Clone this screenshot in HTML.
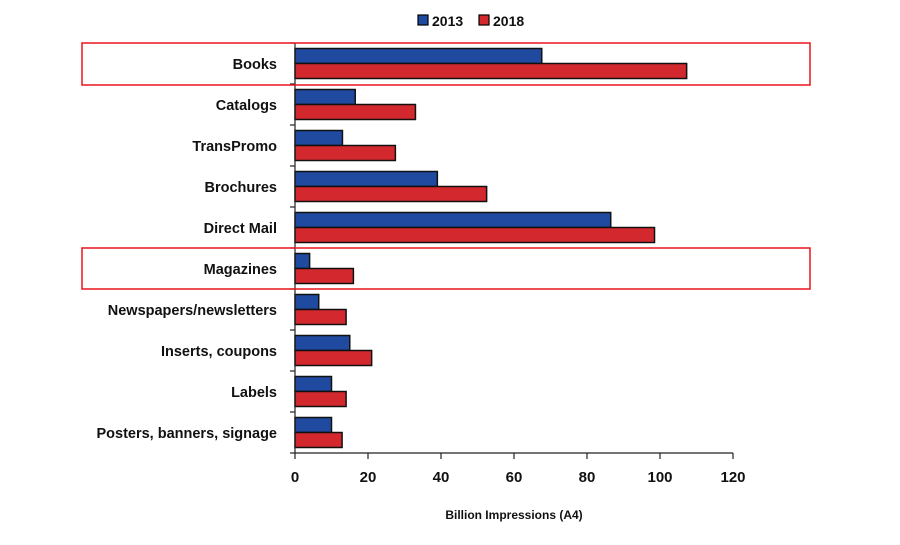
<!DOCTYPE html>
<html><head><meta charset="utf-8"><style>
body{margin:0;background:#fff}
text{font-family:"Liberation Sans",sans-serif;font-weight:bold;fill:#111}
</style></head><body>
<svg width="900" height="540" xmlns="http://www.w3.org/2000/svg">
<g font-size="14">
<rect x="418" y="15" width="10" height="10" fill="#1f4aa0" stroke="#000" stroke-width="1.2"/>
<text x="432" y="26">2013</text>
<rect x="479" y="15" width="10" height="10" fill="#d2282e" stroke="#000" stroke-width="1.2"/>
<text x="493" y="26">2018</text>
</g>
<g id="bars" stroke="#111" stroke-width="1.5"></g>
<line x1="295" y1="43" x2="295" y2="453" stroke="#222" stroke-width="1.2"/>
<line x1="295" y1="453" x2="733" y2="453" stroke="#222" stroke-width="1.2"/>
<g id="ticks" stroke="#222" stroke-width="1.2"></g>
<g id="labels" font-size="14.5" text-anchor="end"></g>
<g id="xl" font-size="15" text-anchor="middle"></g>
<text x="514" y="519" font-size="12" text-anchor="middle">Billion Impressions (A4)</text>
<rect x="82" y="43" width="728" height="42" fill="none" stroke="#e8141c" stroke-width="1.5"/>
<rect x="82" y="248" width="728" height="41" fill="none" stroke="#e8141c" stroke-width="1.5"/>
</svg>
<script>
var d=[["Books",67.6,107.3],["Catalogs",16.5,33],["TransPromo",13,27.5],["Brochures",39,52.5],["Direct Mail",86.5,98.5],["Magazines",4,16],["Newspapers/newsletters",6.5,14],["Inserts, coupons",15,21],["Labels",10,14],["Posters, banners, signage",10,12.9]];
var ns="http://www.w3.org/2000/svg",s=3.65,x0=295;
function el(p,t,a,txt){var e=document.createElementNS(ns,t);for(var k in a)e.setAttribute(k,a[k]);if(txt)e.textContent=txt;document.getElementById(p).appendChild(e);}
d.forEach(function(r,i){var y=43+i*41;
el("bars","rect",{x:x0,y:y+5.5,width:r[1]*s,height:15,fill:"#1f4aa0"});
el("bars","rect",{x:x0,y:y+20.5,width:r[2]*s,height:15,fill:"#d2282e"});
el("labels","text",{x:277,y:y+26},r[0]);
el("ticks","line",{x1:290,y1:y,x2:295,y2:y});});
el("ticks","line",{x1:290,y1:453,x2:295,y2:453});
for(var v=0;v<=120;v+=20){var x=x0+v*s;el("ticks","line",{x1:x,y1:453,x2:x,y2:459});el("xl","text",{x:x,y:482},""+v);}
</script>
</body></html>
